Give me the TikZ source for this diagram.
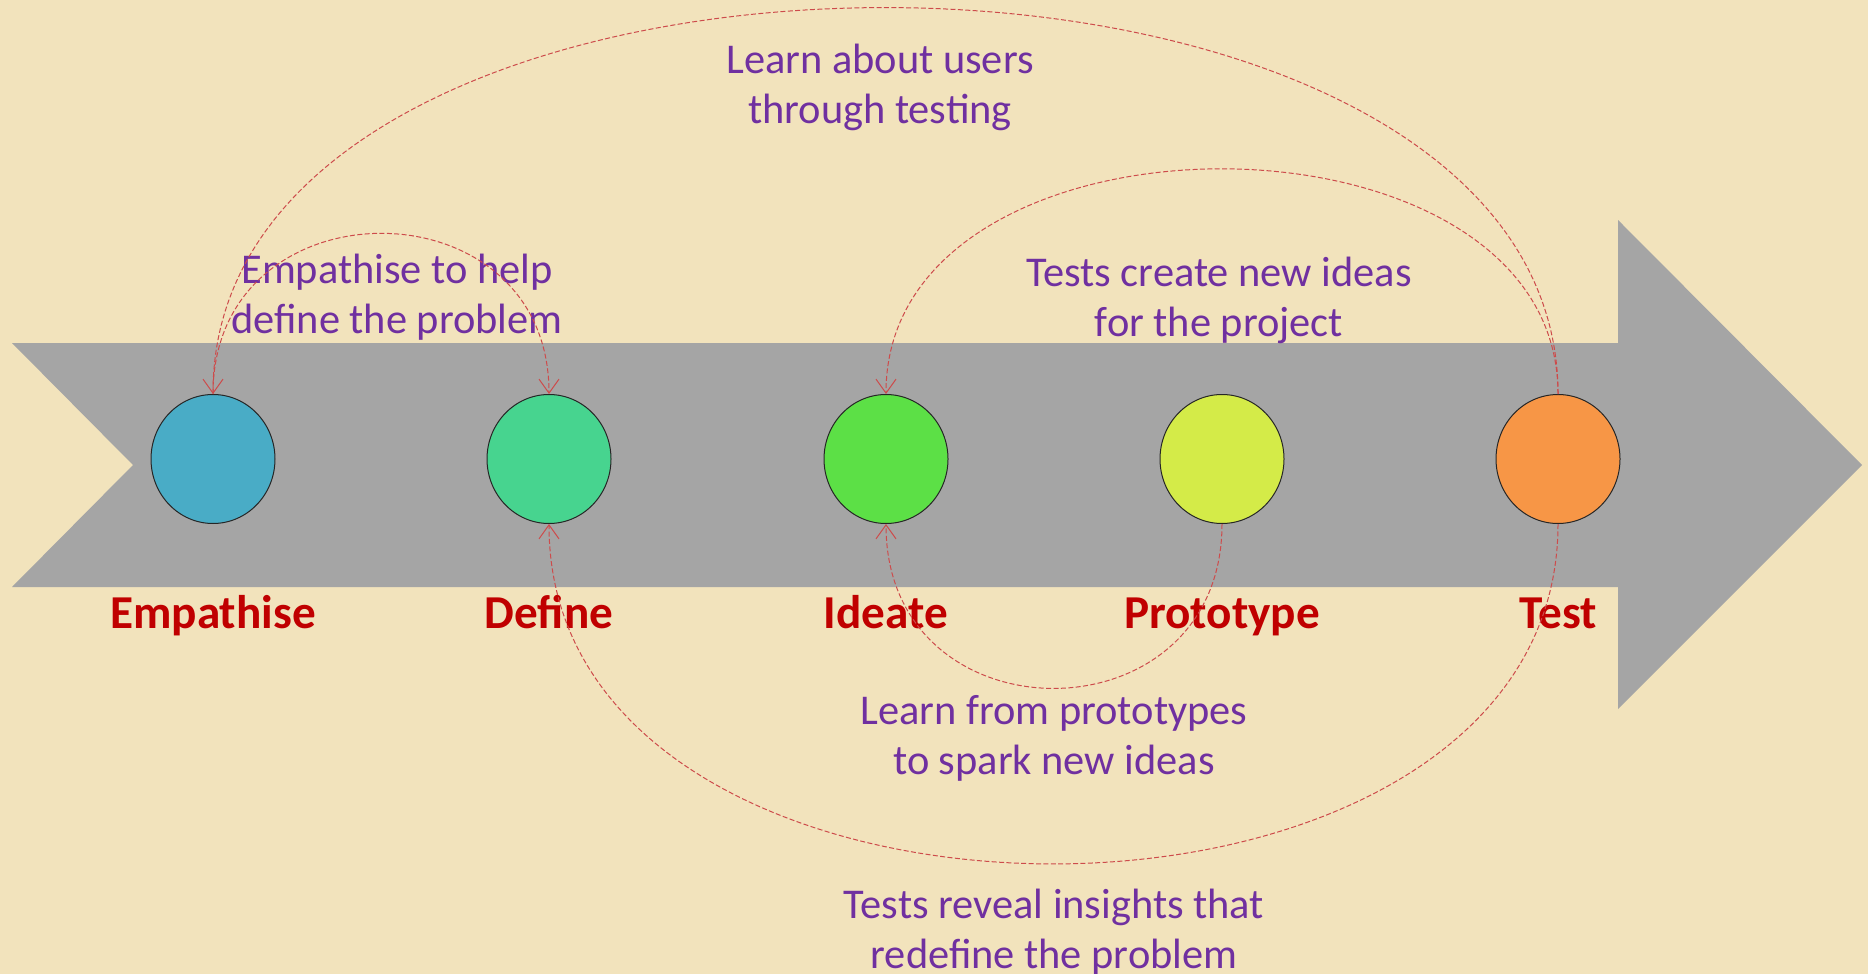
\documentclass[tikz,border=0pt]{standalone}
\usepackage{fontspec}
\setmainfont{Carlito}
\usetikzlibrary{arrows.meta,shapes.geometric}
\definecolor{paper}{RGB}{242,227,188}
\definecolor{band}{RGB}{165,165,165}
\definecolor{lbl}{RGB}{192,0,0}
\definecolor{note}{RGB}{112,48,160}
\definecolor{link}{RGB}{205,75,75}
\definecolor{cE}{RGB}{73,172,198}
\definecolor{cD}{RGB}{71,212,143}
\definecolor{cI}{RGB}{92,224,70}
\definecolor{cP}{RGB}{212,235,72}
\definecolor{cT}{RGB}{247,150,70}
\begin{document}
\begin{tikzpicture}[x=0.5pt,y=-0.5pt,
  stage/.style={ellipse, draw=black!85, line width=0.5pt, minimum width=62pt, minimum height=64.5pt, inner sep=0pt},
  lab/.style={anchor=base, text=lbl, font=\fontsize{23.6}{28}\selectfont\bfseries},
  note/.style={anchor=base, text=note, align=center, font=\fontsize{21.2}{25}\selectfont},
  link/.style={draw=link, line width=0.5pt, dash pattern=on 2.5pt off 1.2pt, -{Straight Barb[length=7pt,width=10pt,line width=0.5pt]}}]
\useasboundingbox (0,0) rectangle (1868,974);
\fill[paper] (0,0) rectangle (1868,974);
\fill[band] (12,343) -- (1618,343) -- (1618,220) -- (1862,465) -- (1618,709) -- (1618,587) -- (12,587) -- (133,465) -- cycle;
\node[stage, fill=cE] (e) at (213,459) {};
\node[stage, fill=cD] (d) at (549,459) {};
\node[stage, fill=cI] (i) at (886,459) {};
\node[stage, fill=cP] (p) at (1222,459) {};
\node[stage, fill=cT] (t) at (1558,459) {};
\node[lab] (le) at (213,628) {Empathise};
\node[lab] (ld) at (549,628) {Define};
\node[lab] (li) at (886,628) {Ideate};
\node[lab] (lp) at (1222,628) {Prototype};
\node[lab] (lt) at (1558,628) {Test};
\node[note] (n1) at (880,124) {Learn about users\\through testing};
\node[note] (n2) at (397,333) {Empathise to help\\define the problem};
\node[note] (n3) at (1219,336) {Tests create new ideas\\for the project};
\node[note] (n4) at (1054,774) {Learn from prototypes\\to spark new ideas};
\node[note] (n5) at (1054,968) {Tests reveal insights that\\redefine the problem};
\draw[link] (t.north) .. controls +(0,-515) and +(0,-515) .. (e.north);
\draw[link] (e.north) .. controls +(0,-214) and +(0,-214) .. (d.north);
\draw[link] (t.north) .. controls +(0,-300) and +(0,-300) .. (i.north);
\draw[link] (p.south) .. controls +(0,219) and +(0,219) .. (i.south);
\draw[link] (t.south) .. controls +(0,453) and +(0,453) .. (d.south);
\end{tikzpicture}
\end{document}
